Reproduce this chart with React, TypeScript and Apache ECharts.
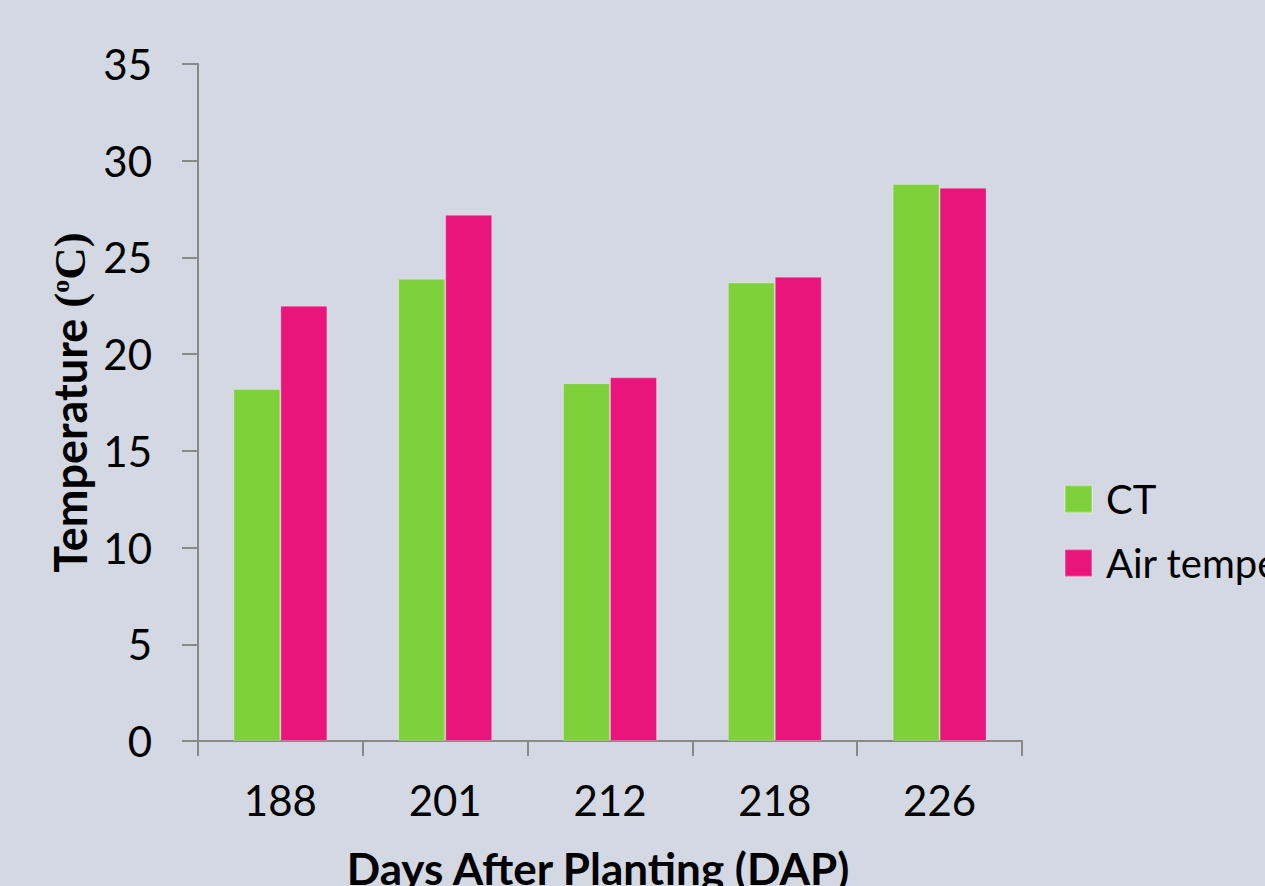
import React, { useEffect, useRef } from "react";
import * as echarts from "echarts";

// Days after planting
const categories = ["188", "201", "212", "218", "226"];
// Canopy temperature (°C)
const ctValues = [18.2, 23.9, 18.5, 23.7, 28.8];
// Air temperature (°C)
const airValues = [22.5, 27.2, 18.8, 24.0, 28.6];
const seriesNames = ["CT", "Air temperature"];
const yTicks = { min: 0, max: 35, interval: 5 };

const FONT = "Lato, 'Open Sans', sans-serif";
const SERIF = "'Liberation Serif', 'DejaVu Serif', serif";
const AXIS_GREY = "#898989";

export default function App() {
  const ref = useRef<HTMLDivElement>(null);

  useEffect(() => {
    if (!ref.current) return;
    const chart = echarts.init(ref.current, undefined, { renderer: "svg" });
    chart.setOption({
      animation: false,
      backgroundColor: "#D3D8E3",
      textStyle: { fontFamily: FONT },
      grid: { left: 198, right: 243, top: 64, bottom: 145, containLabel: false },
      legend: {
        orient: "vertical",
        left: 1064,
        top: 479,
        padding: 0,
        itemWidth: 27,
        itemHeight: 27,
        itemGap: 24,
        icon: "rect",
        data: seriesNames,
        textStyle: {
          fontFamily: FONT,
          fontSize: 40,
          lineHeight: 40,
          color: "#000",
          padding: [0, 0, 0, 9],
        },
      },
      xAxis: {
        type: "category",
        data: categories,
        axisLine: { show: true, lineStyle: { color: AXIS_GREY, width: 2 } },
        axisTick: {
          show: true,
          alignWithLabel: false,
          length: 15,
          lineStyle: { color: AXIS_GREY, width: 2 },
        },
        axisLabel: {
          fontFamily: FONT,
          fontSize: 42,
          color: "#000",
          margin: 38,
        },
      },
      yAxis: {
        type: "value",
        min: yTicks.min,
        max: yTicks.max,
        interval: yTicks.interval,
        splitLine: { show: false },
        axisLine: { show: true, lineStyle: { color: AXIS_GREY, width: 2 } },
        axisTick: { show: true, length: 16, lineStyle: { color: AXIS_GREY, width: 2 } },
        axisLabel: {
          fontFamily: FONT,
          fontSize: 42,
          color: "#000",
          margin: 46,
        },
        name: "{a|Temperature }{b|(}{c|o}{b|C)}",
        nameLocation: "middle",
        nameGap: 106,
        nameRotate: 90,
        nameTextStyle: {
          rich: {
            a: { fontFamily: FONT, fontWeight: "bold", fontSize: 45, color: "#000" },
            b: { fontFamily: SERIF, fontWeight: "bold", fontSize: 45, color: "#000" },
            c: {
              fontFamily: SERIF,
              fontWeight: "bold",
              fontSize: 26,
              color: "#000",
              padding: [0, 0, 18, 0],
            },
          },
        },
      },
      graphic: [
        {
          type: "text",
          x: 598,
          y: 868,
          style: {
            text: "Days After Planting (DAP)",
            fontFamily: FONT,
            fontWeight: "bold",
            fontSize: 44,
            fill: "#000",
            textAlign: "center",
            textVerticalAlign: "middle",
          },
        },
      ],
      series: [
        {
          name: seriesNames[0],
          type: "bar",
          data: ctValues,
          barGap: "0%",
          barCategoryGap: "43%",
          itemStyle: { color: "#7FD13B", borderColor: "rgba(255,255,255,0.25)", borderWidth: 1 },
        },
        {
          name: seriesNames[1],
          type: "bar",
          data: airValues,
          barGap: "0%",
          barCategoryGap: "43%",
          itemStyle: { color: "#EA157A", borderColor: "rgba(255,255,255,0.25)", borderWidth: 1 },
        },
      ],
    });
    return () => chart.dispose();
  }, []);

  return (
    <div
      ref={ref}
      style={{ position: "fixed", left: 0, top: 0, width: 1265, height: 886, overflow: "hidden" }}
    />
  );
}
